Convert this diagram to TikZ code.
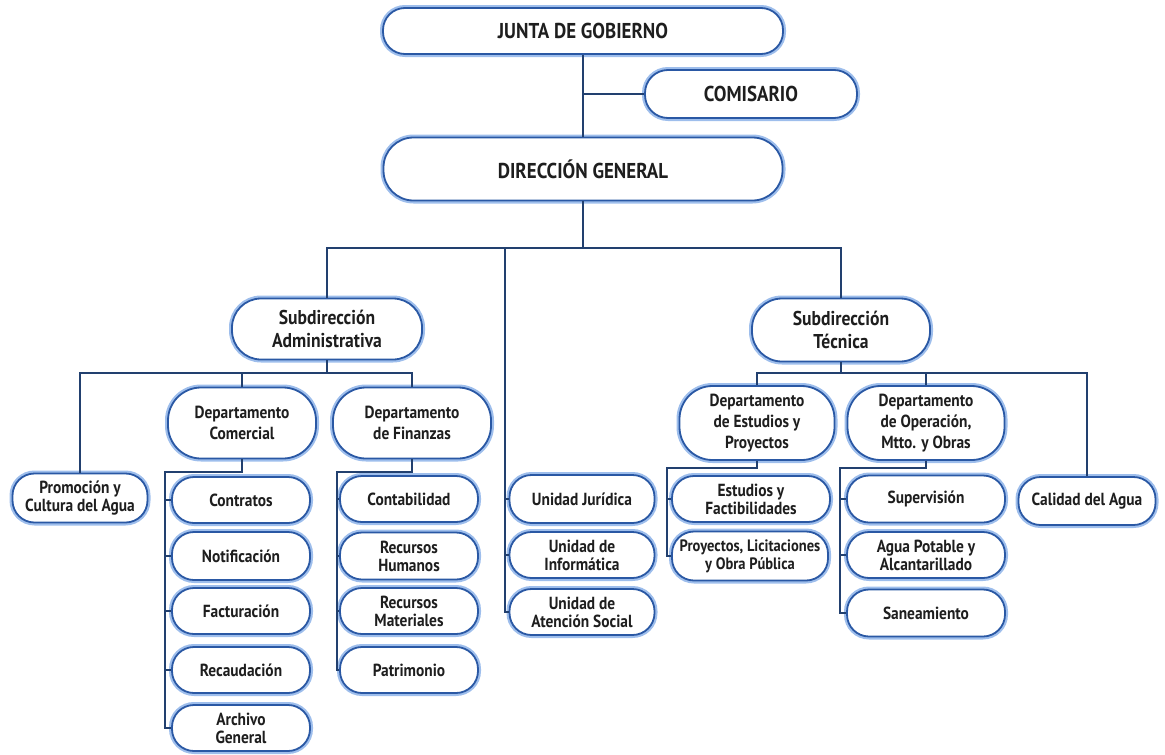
\documentclass[tikz,border=0pt]{standalone}
\usepackage{fontspec}
\setmainfont{PT Sans}[FakeStretch=0.88]
\definecolor{boxblue}{HTML}{2A58A4}
\definecolor{glowblue}{HTML}{9EBEEC}
\definecolor{linenavy}{HTML}{22406F}
\definecolor{txt}{HTML}{1E1E1E}
\tikzset{
  box/.style={draw=boxblue, line width=1.8pt, fill=white, text=txt,
    font=\bfseries\fontsize{17.5}{18}\selectfont, align=center, inner sep=0pt,
    preaction={draw=glowblue, line width=6pt}},
  top/.style={box, font=\bfseries\fontsize{21.5}{24}\selectfont},
  sub/.style={box, font=\bfseries\fontsize{20}{23}\selectfont},
  dep/.style={box, font=\bfseries\fontsize{17.5}{21}\selectfont},
  conn/.style={draw=linenavy, line width=1.3pt}
}
\begin{document}
\begin{tikzpicture}[x=1pt,y=-1pt]
\useasboundingbox (0,0) rectangle (1165,755);
% top level
\node[top, minimum width=400pt, minimum height=46pt, rounded corners=22pt] (junta) at (583,31) {JUNTA DE GOBIERNO};
\node[top, minimum width=212pt, minimum height=48pt, rounded corners=23pt] (comisario) at (751,94) {COMISARIO};
\node[top, minimum width=399pt, minimum height=63pt, rounded corners=30pt] (dg) at (583,169) {DIRECCIÓN GENERAL};
% subdirecciones
\node[sub, minimum width=190pt, minimum height=61pt, rounded corners=29pt] (subadm) at (327,329) {Subdirección\\Administrativa};
\node[sub, minimum width=178pt, minimum height=63pt, rounded corners=30pt] (subtec) at (841,330) {Subdirección\\Técnica};
% departamentos
\node[dep, minimum width=148pt, minimum height=71pt, rounded corners=33pt] (comercial) at (242,423) {Departamento\\Comercial};
\node[dep, minimum width=158pt, minimum height=71pt, rounded corners=33pt] (finanzas) at (412,423) {Departamento\\de Finanzas};
\node[dep, minimum width=155pt, minimum height=74pt, rounded corners=33pt] (estudios) at (757,423) {Departamento\\de Estudios y\\Proyectos};
\node[dep, minimum width=157pt, minimum height=74pt, rounded corners=33pt] (operacion) at (926,423) {Departamento\\de Operación,\\Mtto. y Obras};
% leaves
\tikzset{leaf/.style={box, minimum height=46pt, rounded corners=22pt}}
\node[leaf, minimum width=135pt, minimum height=49pt] (promocion) at (80,498) {Promoción y\\Cultura del Agua};
\node[leaf, minimum width=138pt] (contratos) at (241,500) {Contratos};
\node[leaf, minimum width=138pt, minimum height=48pt] (notificacion) at (241,556) {Notificación};
\node[leaf, minimum width=138pt] (facturacion) at (241,611) {Facturación};
\node[leaf, minimum width=138pt] (recaudacion) at (241,670) {Recaudación};
\node[leaf, minimum width=138pt] (archivo) at (241,728) {Archivo\\General};
\node[leaf, minimum width=138pt] (contabilidad) at (409,499) {Contabilidad};
\node[leaf, minimum width=138pt, minimum height=47pt] (rrhh) at (409,556) {Recursos\\Humanos};
\node[leaf, minimum width=138pt] (rrmm) at (409,611) {Recursos\\Materiales};
\node[leaf, minimum width=138pt] (patrimonio) at (409,670) {Patrimonio};
\node[leaf, minimum width=145pt, minimum height=48pt] (juridica) at (582,499) {Unidad Jurídica};
\node[leaf, minimum width=145pt] (informatica) at (582,555) {Unidad de\\Informática};
\node[leaf, minimum width=145pt] (atencion) at (582,612) {Unidad de\\Atención Social};
\node[leaf, minimum width=158pt] (estfact) at (751,499) {Estudios y\\Factibilidades};
\node[leaf, minimum width=156pt, minimum height=49pt, font=\bfseries\fontsize{16.5}{18}\selectfont] (proyectos) at (750,556) {Proyectos, Licitaciones\\y Obra Pública};
\node[leaf, minimum width=158pt, minimum height=47pt] (supervision) at (926,499) {Supervisión};
\node[leaf, minimum width=158pt] (agua) at (926,555) {Agua Potable y\\Alcantarillado};
\node[leaf, minimum width=158pt, minimum height=47pt] (saneamiento) at (926,613) {Saneamiento};
\node[leaf, minimum width=137pt, minimum height=48pt] (calidad) at (1087,501) {Calidad del Agua};
% bus coordinates
\coordinate (b1) at (0,248);
\coordinate (b2) at (0,373);
\coordinate (cx) at (165,472);
\coordinate (fx) at (337,472);
\coordinate (ux) at (505,248);
\coordinate (ex) at (667,468);
\coordinate (ox) at (840,468);
% connectors
\draw[conn] (junta.south) -- (dg.north);
\draw[conn] (comisario.west) -- (comisario.west -| dg.north);
\draw[conn] (dg.south) -- (dg.south |- b1);
\draw[conn] (subadm.north) |- (subtec.north |- b1) -- (subtec.north);
% unidades
\draw[conn] (ux) |- (atencion.west);
\draw[conn] (ux |- juridica.west) -- (juridica.west);
\draw[conn] (ux |- informatica.west) -- (informatica.west);
% subdireccion administrativa
\draw[conn] (subadm.south) -- (subadm.south |- b2);
\draw[conn] (promocion.north) |- (finanzas.north |- b2) -- (finanzas.north);
\draw[conn] (comercial.north) -- (comercial.north |- b2);
% comercial
\draw[conn] (comercial.south) |- (cx) |- (archivo.west);
\draw[conn] (cx |- contratos.west) -- (contratos.west);
\draw[conn] (cx |- notificacion.west) -- (notificacion.west);
\draw[conn] (cx |- facturacion.west) -- (facturacion.west);
\draw[conn] (cx |- recaudacion.west) -- (recaudacion.west);
% finanzas
\draw[conn] (finanzas.south) |- (fx) |- (patrimonio.west);
\draw[conn] (fx |- contabilidad.west) -- (contabilidad.west);
\draw[conn] (fx |- rrhh.west) -- (rrhh.west);
\draw[conn] (fx |- rrmm.west) -- (rrmm.west);
% subdireccion tecnica
\draw[conn] (subtec.south) -- (subtec.south |- b2);
\draw[conn] (estudios.north) |- (calidad.north |- b2) -- (calidad.north);
\draw[conn] (operacion.north) -- (operacion.north |- b2);
% estudios
\draw[conn] (estudios.south) |- (ex) |- (proyectos.west);
\draw[conn] (ex |- estfact.west) -- (estfact.west);
% operacion
\draw[conn] (operacion.south) |- (ox) |- (saneamiento.west);
\draw[conn] (ox |- supervision.west) -- (supervision.west);
\draw[conn] (ox |- agua.west) -- (agua.west);
\end{tikzpicture}
\end{document}
